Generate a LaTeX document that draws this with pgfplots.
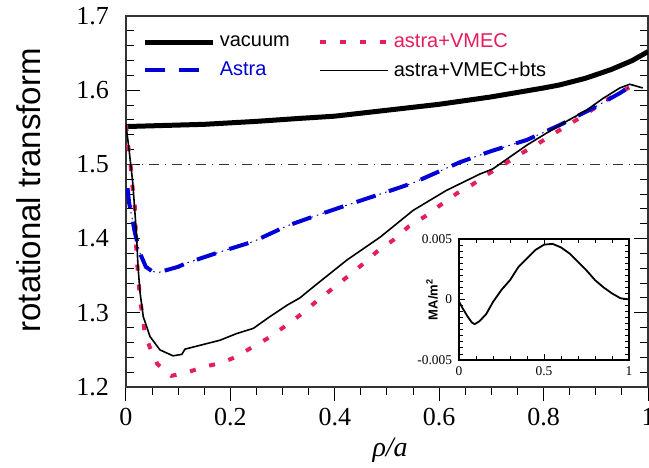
\documentclass[border=0pt]{standalone}
\usepackage{pgfplots}
\pgfplotsset{compat=1.18}
\usepackage{fontspec}
\setmainfont{Liberation Serif}
\newfontfamily\helv{Liberation Sans}
\definecolor{cred}{RGB}{228,30,90}
\definecolor{cblue}{RGB}{0,0,215}
\begin{document}
\begin{tikzpicture}
\begin{axis}[
  scale only axis, width=261pt, height=185.5pt,
  xmin=0, xmax=1, ymin=1.2, ymax=1.7,
  xtick={0,0.2,0.4,0.6,0.8,1}, xticklabels={0,0.2,0.4,0.6,0.8,1},
  ytick={1.2,1.3,1.4,1.5,1.6,1.7}, yticklabels={1.2,1.3,1.4,1.5,1.6,1.7},
  minor x tick num=3, minor y tick num=4,
  xtick pos=bottom, xtick align=outside, ytick align=inside,
  major tick length=7pt, minor tick length=4pt,
  tick style={black, line width=0.5pt},
  tick label style={font=\fontsize{13}{15}\selectfont},
  yticklabel style={xshift=-5pt},
  axis line style={draw=black!80, line width=0.6pt},
  xlabel={\textit{ρ/a}},
  xlabel style={font=\fontsize{14}{16}\selectfont, at={(rel axis cs:0.506,0)}, anchor=center, yshift=-31.5pt},
  ylabel={rotational transform},
  ylabel style={font=\helv\fontsize{16.5}{18}\selectfont, at={(rel axis cs:0,0.53)}, anchor=center, yshift=48.5pt},
  legend columns=2,
  legend cell align=left,
  legend image code/.code={\draw[#1] (0pt,0pt) -- (34pt,0pt);},
  legend style={at={(rel axis cs:0.02,0.975)}, anchor=north west, draw=none, fill=none,
    font=\helv\fontsize{10}{12}\selectfont, row sep=1.5pt,
    /tikz/every even column/.append style={column sep=12pt}},
]
\coordinate (bl) at (rel axis cs:0,0);
\coordinate (tr) at (rel axis cs:1,1);
\coordinate (inpos) at (rel axis cs:0.638,0.0728);
% 1.5 reference line
\addplot[black!80, line width=0.4pt, dash pattern=on 5pt off 3pt on 0.6pt off 3pt, forget plot] coordinates {(0,1.5) (1,1.5)};
% vacuum
\addplot[black, line width=2.5pt] coordinates {
(0,1.551) (0.05,1.552) (0.1,1.553) (0.15,1.554) (0.2,1.556) (0.25,1.558) (0.333,1.562)
(0.4,1.565) (0.45,1.569) (0.5,1.573) (0.55,1.577) (0.6,1.581) (0.64,1.585) (0.7,1.591)
(0.75,1.597) (0.8,1.603) (0.83,1.607) (0.88,1.616) (0.93,1.628) (0.97,1.640) (1.0,1.652)};
\addlegendentry{vacuum}
% astra+VMEC
\addplot[cred, line width=2pt, dash pattern=on 3pt off 7pt] coordinates {
(0,1.553) (0.004,1.526) (0.008,1.506) (0.013,1.465) (0.017,1.443) (0.02,1.38) (0.027,1.317)
(0.032,1.295) (0.036,1.272) (0.046,1.253) (0.06,1.231) (0.087,1.215) (0.119,1.220) (0.148,1.227)
(0.18,1.232) (0.209,1.240) (0.238,1.252) (0.27,1.265) (0.301,1.280) (0.33,1.295) (0.359,1.312)
(0.391,1.330) (0.423,1.348) (0.451,1.364) (0.48,1.382) (0.512,1.398) (0.541,1.416) (0.573,1.430)
(0.602,1.445) (0.634,1.461) (0.664,1.473) (0.691,1.486) (0.722,1.499) (0.753,1.513) (0.785,1.526)
(0.812,1.538) (0.844,1.552) (0.875,1.565) (0.904,1.579) (0.933,1.592) (0.965,1.604) (0.975,1.607)};
\addlegendentry{\textcolor{cred}{astra+VMEC}}
% Astra thin dots
\addplot[cblue, line width=0.5pt, dash pattern=on 0.8pt off 2.2pt, forget plot] coordinates {
(0.003,1.468) (0.006,1.448) (0.013,1.423) (0.017,1.408) (0.027,1.380) (0.038,1.362) (0.05,1.356)
(0.061,1.354) (0.075,1.357) (0.1,1.362) (0.116,1.367) (0.18,1.382) (0.244,1.396) (0.308,1.417)
(0.36,1.430) (0.423,1.445) (0.487,1.460) (0.55,1.475) (0.64,1.503) (0.70,1.518) (0.768,1.533)
(0.831,1.553) (0.895,1.576) (0.946,1.596) (0.979,1.611)};
% Astra
\addplot[cblue, line width=2pt, dash pattern=on 10pt off 7pt] coordinates {
(0.003,1.468) (0.006,1.448) (0.013,1.423) (0.017,1.408) (0.027,1.380) (0.038,1.362) (0.05,1.356)
(0.061,1.354) (0.075,1.357) (0.1,1.362) (0.116,1.367) (0.18,1.382) (0.244,1.396) (0.308,1.417)
(0.36,1.430) (0.423,1.445) (0.487,1.460) (0.55,1.475) (0.64,1.503) (0.70,1.518) (0.768,1.533)
(0.831,1.553) (0.895,1.576) (0.946,1.596) (0.979,1.611)};
\addlegendentry{\textcolor{cblue}{Astra}}
% astra+VMEC+bts
\addplot[black, line width=0.8pt] coordinates {
(0,1.553) (0.006,1.519) (0.013,1.475) (0.02,1.407) (0.023,1.362) (0.027,1.327) (0.033,1.295)
(0.046,1.268) (0.065,1.25) (0.09,1.242) (0.107,1.244) (0.113,1.251) (0.18,1.263) (0.212,1.272)
(0.244,1.279) (0.276,1.295) (0.308,1.310) (0.333,1.320) (0.359,1.335) (0.423,1.371) (0.487,1.402)
(0.55,1.438) (0.614,1.465) (0.678,1.487) (0.703,1.494) (0.768,1.526) (0.831,1.553) (0.882,1.573)
(0.914,1.589) (0.946,1.603) (0.965,1.608) (0.99,1.603)};
\addlegendentry{astra+VMEC+bts}
\end{axis}
\begin{axis}[
  at={(inpos)}, anchor=south west,
  scale only axis, width=85pt, height=60.5pt,
  xmin=0, xmax=1, ymin=-0.005, ymax=0.005,
  xtick={0,0.5,1}, xticklabels={0,0.5,1},
  ytick={-0.005,0,0.005}, yticklabels={-0.005,0,0.005},
  scaled y ticks=false, scaled x ticks=false,
  minor x tick num=4, minor y tick num=9,
  tick align=inside, major tick length=3pt, minor tick length=1.8pt,
  tick style={black, line width=0.4pt},
  tick label style={font=\fontsize{6.7}{8}\selectfont},
  axis line style={line width=0.6pt},
  axis background/.style={fill=white},
  ylabel={MA/m\textsuperscript{2}},
  ylabel style={font=\helv\bfseries\fontsize{6.5}{8}\selectfont, at={(rel axis cs:0,0.5)}, anchor=center, yshift=13.5pt},
]
\addplot[black, line width=0.9pt] coordinates {
(0,-0.00017) (0.02,-0.0007) (0.05,-0.0014) (0.075,-0.0019) (0.092,-0.00204) (0.12,-0.0018)
(0.16,-0.0012) (0.2,-0.0002) (0.25,0.0008) (0.3,0.0016) (0.35,0.0027) (0.4,0.0034) (0.45,0.0041)
(0.5,0.00453) (0.55,0.0046) (0.6,0.0043) (0.65,0.0038) (0.7,0.0031) (0.75,0.0024) (0.8,0.0016)
(0.85,0.0010) (0.9,0.0005) (0.95,0.0001) (1,0.0)};
\end{axis}
\pgfresetboundingbox
\path ([shift={(-63pt,-40.5pt)}]bl) rectangle ([shift={(0.5pt,8pt)}]tr);
\end{tikzpicture}
\end{document}
